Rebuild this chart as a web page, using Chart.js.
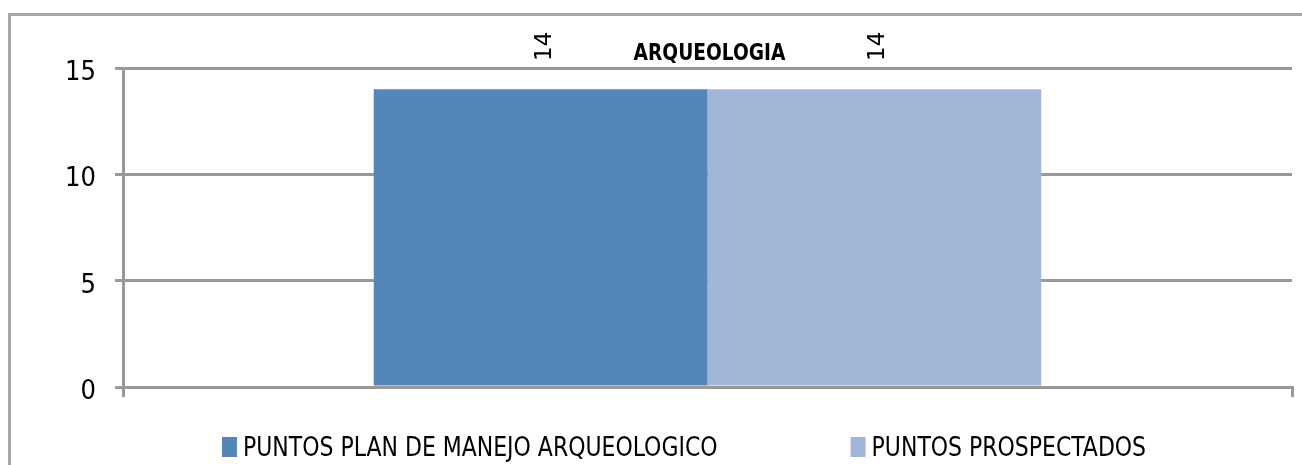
<!DOCTYPE html>
<html>
<head>
<meta charset="utf-8">
<script src="https://cdn.jsdelivr.net/npm/chart.js@4"></script>
<style>
  html, body { margin: 0; padding: 0; background: #fff; overflow: hidden; }
  #wrap { width: 1302px; height: 465px; }
</style>
</head>
<body>
<div id="wrap"><canvas id="myChart"></canvas></div>
<script>
let categories = ["ARQUEOLOGIA"];
let seriesNames = ["PUNTOS PLAN DE MANEJO ARQUEOLOGICO", "PUNTOS PROSPECTADOS"];
let planManejo = [14];
let prospectados = [14];
let yTicks = [0, 5, 10, 15];
let chartTitle = "ARQUEOLOGIA";

let narrow = "'Liberation Sans Narrow', 'DejaVu Sans Condensed', sans-serif";

// squeeze text horizontally so it looks like the narrow original font
function narrowText(c, text, x, y, sx) {
	c.save();
	c.translate(x, y);
	c.scale(sx, 1);
	c.fillText(text, 0, 0);
	c.restore();
}

// frame, title, rotated value labels, legend
let extras = {
	id: "extras",
	beforeDraw(chart) {
		let c = chart.ctx;
		c.save();
		c.strokeStyle = "#a6a6a6";
		c.lineWidth = 3;
		c.beginPath();
		c.moveTo(9.5, 470);
		c.lineTo(9.5, 14.5);
		c.lineTo(1310, 14.5);
		c.stroke();
		c.restore();
	},
	afterDraw(chart) {
		let c = chart.ctx;
		let area = chart.chartArea;
		c.save();
		c.fillStyle = "#000";
		c.font = "bold 23px " + narrow;
		c.textAlign = "center";
		c.textBaseline = "alphabetic";
		narrowText(c, chartTitle, (area.left + area.right) / 2 + 2, 60, 0.9);

		c.font = "23px 'DejaVu Sans', sans-serif";
		chart.data.datasets.forEach((ds, i) => {
			chart.getDatasetMeta(i).data.forEach((bar, j) => {
				c.save();
				c.translate(bar.x + 4, 61);
				c.rotate(-Math.PI / 2);
				c.textAlign = "left";
				c.textBaseline = "middle";
				c.fillText(String(ds.data[j]), 0, 0);
				c.restore();
			});
		});

		c.font = "27px " + narrow;
		c.textBaseline = "middle";
		c.textAlign = "left";
		let sx = 0.905;
		let x = 222;
		chart.data.datasets.forEach((ds) => {
			c.fillStyle = ds.backgroundColor;
			c.fillRect(x, 437, 15, 20);
			c.fillStyle = "#000";
			narrowText(c, ds.label, x + 21, 449, sx);
			x += 21 + c.measureText(ds.label).width * sx + 133;
		});
		c.restore();
	}
};

let ctx = document.getElementById("myChart").getContext("2d");
new Chart(ctx, {
	type: "bar",
	data: {
		labels: categories,
		datasets: [{
			label: seriesNames[0],
			data: planManejo,
			backgroundColor: "#5586b8",
			categoryPercentage: 0.571,
			barPercentage: 1.0
		}, {
			label: seriesNames[1],
			data: prospectados,
			backgroundColor: "#a3b6d8",
			categoryPercentage: 0.571,
			barPercentage: 1.0
		}]
	},
	options: {
		responsive: true,
		maintainAspectRatio: false,
		animation: false,
		layout: { padding: { left: 0, right: 10, top: 68, bottom: 68 } },
		plugins: {
			legend: { display: false },
			tooltip: { enabled: false },
			title: { display: false }
		},
		scales: {
			x: {
				offset: true,
				ticks: { display: false },
				grid: { display: true, drawOnChartArea: false, drawTicks: true, tickLength: 10, color: "#999", lineWidth: 3 },
				border: { display: true, color: "#999", width: 3 }
			},
			y: {
				min: 0,
				max: 15,
				afterBuildTicks(scale) {
					scale.ticks = yTicks.map(v => ({ value: v }));
				},
				afterFit(scale) { scale.width = 123; },
				ticks: {
					padding: 19,
					labelOffset: 5,
					color: "#000",
					font: { family: narrow, size: 27 }
				},
				grid: { color: "#999", lineWidth: 3, tickLength: 8 },
				border: { display: true, color: "#999", width: 3 }
			}
		}
	},
	plugins: [extras]
});
</script>
</body>
</html>
